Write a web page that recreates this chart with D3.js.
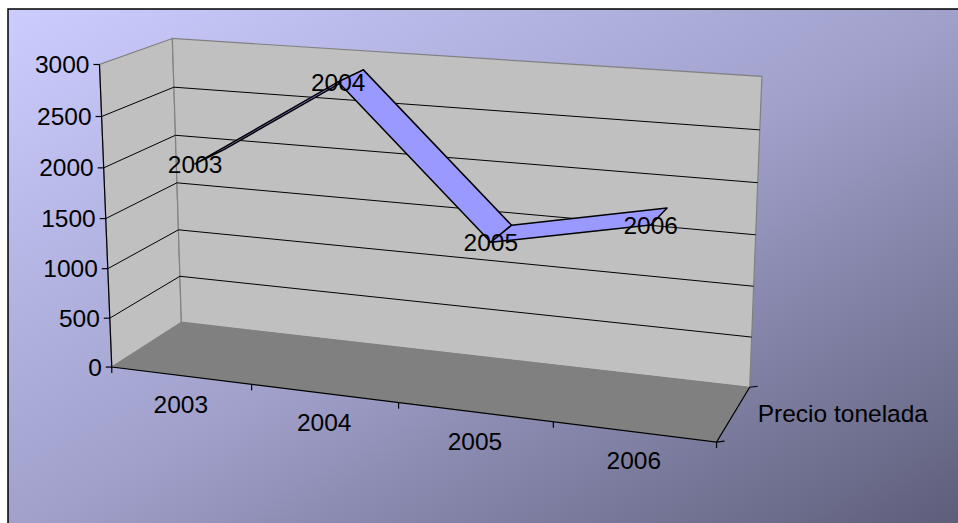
<!DOCTYPE html>
<html><head><meta charset="utf-8">
<script src="https://cdn.jsdelivr.net/npm/d3@7"></script>
<style>html,body{margin:0;padding:0;background:#fff;}svg{display:block;}</style>
</head><body>
<svg id="c" width="958" height="523"></svg>
<script>
// ---- data ----
const categories = ["2003", "2004", "2005", "2006"];
const values = [2000, 2900, 1500, 1800];
const seriesName = "Precio tonelada";
const valueTicks = [0, 500, 1000, 1500, 2000, 2500, 3000];
const valueMax = 3000;

// ---- layout: 3D box corners (unit cube -> screen) used to fit a camera ----
const calib = [
  [[0,0,0],[112,367]],[[0,1,0],[100,64]],[[0,0,1],[182,322]],[[0,1,1],[172,39]],
  [[1,0,1],[750,386]],[[1,1,1],[762,77]],[[1,0,0],[717,441]],
  [[0.25,0,0],[252,386]],[[0.5,0,0],[398,403]],[[0.75,0,0],[552,423]],
  [[0,0.5,0],[106,217]],[[0,0.5,1],[176,183]],[[1,0.5,1],[756,235]]
];
function fitCamera(pts){
  const A=[],b=[];
  pts.forEach(([[X,Y,Z],[u,v]])=>{
    A.push([X,Y,Z,1,0,0,0,0,-u*X,-u*Y,-u*Z]); b.push(u);
    A.push([0,0,0,0,X,Y,Z,1,-v*X,-v*Y,-v*Z]); b.push(v);
  });
  const n=11, M=[];
  for(let i=0;i<n;i++){M.push(new Array(n+1).fill(0));
    for(let j=0;j<n;j++){let s=0;for(let k=0;k<A.length;k++)s+=A[k][i]*A[k][j];M[i][j]=s;}
    let s=0;for(let k=0;k<A.length;k++)s+=A[k][i]*b[k];M[i][n]=s;}
  for(let c=0;c<n;c++){let p=c;for(let r=c+1;r<n;r++)if(Math.abs(M[r][c])>Math.abs(M[p][c]))p=r;
    [M[c],M[p]]=[M[p],M[c]];
    for(let r=0;r<n;r++){if(r===c)continue;const f=M[r][c]/M[c][c];for(let k=c;k<=n;k++)M[r][k]-=f*M[c][k];}}
  return M.map((row,i)=>row[n]/row[i]);
}
const P = fitCamera(calib);
function proj(x,y,z){
  const w=P[8]*x+P[9]*y+P[10]*z+1;
  return [(P[0]*x+P[1]*y+P[2]*z+P[3])/w,(P[4]*x+P[5]*y+P[6]*z+P[7])/w];
}

const xScale = d3.scaleBand().domain(categories).range([0,1]);
const yScale = d3.scaleLinear().domain([0,valueMax]).range([0,1]);
const zFront = 0.29, zBack = 0.71;
const xc = c => xScale(c)+xScale.bandwidth()/2;

const svg = d3.select("#c");
const FONT = "'Liberation Sans', Arial, sans-serif";
const defs = svg.append("defs");
const g = defs.append("linearGradient").attr("id","bg").attr("x1",0).attr("y1",0).attr("x2",1).attr("y2",1);
g.append("stop").attr("offset",0).attr("stop-color","#ccccff");
g.append("stop").attr("offset",0.5).attr("stop-color","#a0a0cb");
g.append("stop").attr("offset",1).attr("stop-color","#5c5c78");

svg.append("rect").attr("x",8).attr("y",9).attr("width",960).attr("height",525)
  .attr("fill","url(#bg)").attr("stroke","#000").attr("stroke-width",1.5);

const line = d3.line();
const poly = pts => line(pts)+"Z";

// walls
svg.append("path").attr("d",poly([proj(0,0,0),proj(0,1,0),proj(0,1,1),proj(0,0,1)]))
  .attr("fill","#c0c0c0").attr("stroke","#808080").attr("stroke-width",1.2);
svg.append("path").attr("d",poly([proj(0,0,1),proj(0,1,1),proj(1,1,1),proj(1,0,1)]))
  .attr("fill","#c0c0c0").attr("stroke","#808080").attr("stroke-width",1.2);
// floor
svg.append("path").attr("d",poly([proj(0,0,0),proj(0,0,1),proj(1,0,1),proj(1,0,0)]))
  .attr("fill","#808080").attr("stroke","none");

// gridlines
const grid = svg.append("g").attr("stroke","#000").attr("stroke-width",1).attr("fill","none");
valueTicks.filter(t=>t>0 && t<valueMax).forEach(t=>{
  const y=yScale(t);
  grid.append("path").attr("d",line([proj(0,y,0),proj(0,y,1),proj(1,y,1)]));
});

// axes
const ax = svg.append("g").attr("stroke","#000").attr("stroke-width",1.2).attr("fill","none");
ax.append("path").attr("d",line([proj(0,1,0),proj(0,0,0),proj(1,0,0),proj(1,0,1)]));
valueTicks.forEach(t=>{
  const p=proj(0,yScale(t),0);
  ax.append("path").attr("d",line([[p[0]-6,p[1]],p]));
});
categories.map(c=>xScale(c)).concat([1]).forEach(x=>{
  const p=proj(x,0,0);
  ax.append("path").attr("d",line([p,[p[0],p[1]+6]]));
});
[0,1].forEach(z=>{
  const p=proj(1,0,z);
  ax.append("path").attr("d",line([p,[p[0]+8,p[1]-1]]));
});

// axis labels
const txt = svg.append("g").attr("font-family",FONT).attr("font-size","24.5px").attr("fill","#000");
valueTicks.forEach(t=>{
  const p=proj(0,yScale(t),0);
  txt.append("text").attr("x",p[0]-10).attr("y",p[1]).attr("dy","0.35em").attr("text-anchor","end").text(t);
});
categories.forEach(c=>{
  const p=proj(xc(c),0,0);
  txt.append("text").attr("x",p[0]).attr("y",p[1]+29).attr("dy","0.35em").attr("text-anchor","middle").text(c);
});
{
  const p=proj(1,0,0.5);
  txt.append("text").attr("x",p[0]+24).attr("y",p[1]).attr("dy","0.35em").text(seriesName);
}

// ribbon
const front = categories.map((c,i)=>proj(xc(c),yScale(values[i]),zFront));
const back = categories.map((c,i)=>proj(xc(c),yScale(values[i]),zBack));
const rib = svg.append("g").attr("fill","#9999ff").attr("stroke","#000").attr("stroke-width",1.5).attr("stroke-linejoin","round");
for(let i=0;i<categories.length-1;i++){
  rib.append("path").attr("d",poly([front[i],front[i+1],back[i+1],back[i]]));
}
// data labels (on top of the ribbon)
const dl = svg.append("g").attr("font-family",FONT).attr("font-size","24.5px").attr("fill","#000");
categories.forEach((c,i)=>{
  const p=front[i];
  dl.append("text").attr("x",p[0]).attr("y",p[1]).attr("dy","0.35em").attr("text-anchor","middle").text(c);
});
</script>
</body></html>
